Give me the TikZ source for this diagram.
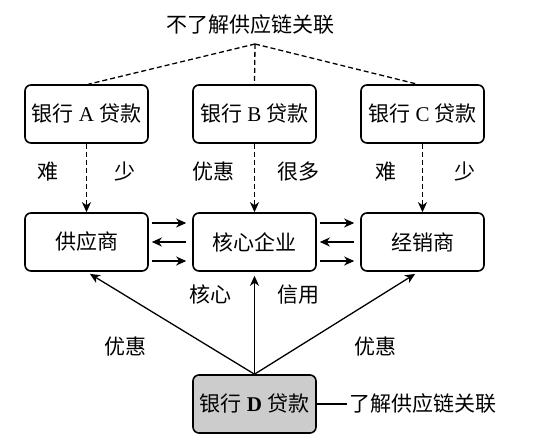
\documentclass[tikz,border=0pt]{standalone}
\usepackage{fontspec}
\setmainfont{Liberation Serif}
\newfontfamily\cjk{Noto Sans CJK SC}
\usetikzlibrary{arrows.meta}
\newcommand\loan[1]{银行\hspace{5pt}{\rmfamily #1}\hspace{5pt}贷款}

\begin{document}
\begin{tikzpicture}[x=1pt,y=1pt,node distance=128pt,line width=1.3pt,
  every node/.style={font=\fontsize{21}{25}\selectfont\cjk,inner sep=1pt},
  box/.style={draw,rounded corners=6pt,line width=1.6pt,minimum width=123pt,minimum height=58pt},
  dashline/.style={dash pattern=on 5pt off 3pt},
  >={Stealth[length=10pt,width=9pt,inset=3pt]}]
  \useasboundingbox (0,0) rectangle (535,441);
  % Banks A, B, C
  \node (nolink) at (250,416) {不了解供应链关联};
  \coordinate (meet) at (255,397);
  \node[box] (bankA) at (86.5,327) {\loan{A}};
  \node[box] (bankB) [right of=bankA,xshift=40pt] {\loan{B}};
  \node[box] (bankC) [right of=bankB,xshift=40pt] {\loan{C}};
  \draw[dashline] (meet)--([xshift=2pt]bankA.north);
  \draw[dashline] (meet)--(bankB.north);
  \draw[dashline] (meet)--([xshift=-5pt]bankC.north);
  % Supply chain
  \node[box] (supplier) [below of=bankA] {供应商};
  \node[box] (core) [below of=bankB] {核心企业};
  \node[box] (dealer) [below of=bankC] {经销商};
  \draw[dashline,->] (bankA)--node[pos=0.4,left=26pt] {难} node[pos=0.4,right=26pt] {少} (supplier);
  \draw[dashline,->] (bankB)--node[pos=0.4,left=18pt] {优惠} node[pos=0.4,right=21pt] {很多} (core);
  \draw[dashline,->] (bankC)--node[pos=0.4,left=24pt] {难} node[pos=0.4,right=30pt] {少} (dealer);
  \foreach \a/\b in {supplier/core,core/dealer} {
    \draw[->] ([xshift=3pt,yshift=19pt]\a.east)--([xshift=-6pt,yshift=19pt]\b.west);
    \draw[<-] ([xshift=3pt]\a.east)--([xshift=-6pt]\b.west);
    \draw[->] ([xshift=3pt,yshift=-19pt]\a.east)--([xshift=-6pt,yshift=-19pt]\b.west);
  }
  % Bank D
  \node[box,fill=black!20] (bankD) [below of=core,yshift=-34pt] {\loan{\bfseries D}};
  \node (link) [right of=bankD,xshift=40pt] {了解供应链关联};
  \draw (bankD)--(link);
  \draw[->,shorten >=4pt] (bankD.north)--(supplier.south);
  \draw[->,shorten >=4pt] (bankD.north)--node[pos=0.78,left=21pt] {核心} node[pos=0.78,right=21pt] {信用} (core.south);
  \draw[->,shorten >=4pt] (bankD.north)--([xshift=-4pt]dealer.south);
  \node (favL) at (125,94) {优惠};
  \node (favR) at (375,94) {优惠};
\end{tikzpicture}
\end{document}
